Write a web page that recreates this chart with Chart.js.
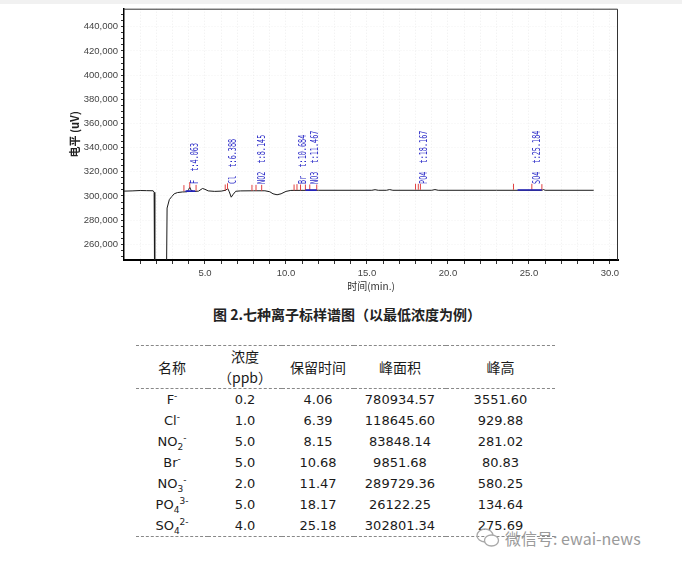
<!DOCTYPE html>
<html lang="zh">
<head>
    <meta charset="UTF-8">
    <title>七种离子标样谱图</title>
    <script src="https://cdn.jsdelivr.net/npm/chart.js"></script>
    <style type="text/css">
        body{
            margin: 0;
            background: #fff;
        }
        .page{
            position: relative;
            width: 682px;
            height: 565px;
            overflow: hidden;
        }
        .topband{
            position: absolute; left: 0; top: 0;
            width: 682px; height: 4px;
            background: #f1f1f1;
        }
        .grafica{
            position: absolute; left: 0; top: 0;
            width: 682px; height: 292px;
        }
        .caption{
            position: absolute; left: 0; top: 304px;
            width: 694px; text-align: center;
            font-family: "Noto Sans CJK SC", sans-serif;
            font-size: 14px; font-weight: bold; color: #222;
            line-height: 20px;
        }
        table{
            position: absolute; left: 136px; top: 345px;
            width: 419px;
            border-collapse: collapse;
            font-family: "DejaVu Sans", "Noto Sans CJK SC", sans-serif;
            color: #1a1a1a;
            table-layout: fixed;
        }
        th{
            font-family: "Noto Sans CJK SC", sans-serif;
            font-weight: normal; font-size: 14px;
            line-height: 21px; height: 42px; padding: 0;
            border-top: 1px dashed #888;
            border-bottom: 1px dashed #888;
        }
        td{
            font-size: 13px; line-height: 21px; height: 21px;
            padding: 0; text-align: center;
        }
        tr:last-child td{ border-bottom: 1px dashed #888; }
        sup, sub{ font-size: 9px; line-height: 0; }
        .mark{
            position: absolute; left: 476px; top: 526px;
            font-family: "Noto Sans CJK SC", sans-serif;
            font-size: 16px; color: #9a9a9a;
            display: flex; align-items: center;
        }
        .mark svg{ margin-right: 5px; }
    </style>
</head>
<body>
<div class="page">
    <div class="topband"></div>
    <div class="grafica">
        <canvas id="myChart" width="682" height="292"></canvas>
    </div>
    <div class="caption">图 2.七种离子标样谱图（以最低浓度为例）</div>
    <table id="tabla">
        <colgroup>
            <col style="width:72px"><col style="width:74px"><col style="width:72px"><col style="width:92px"><col style="width:109px">
        </colgroup>
        <thead>
            <tr><th>名称</th><th>浓度<br>（ppb）</th><th>保留时间</th><th>峰面积</th><th>峰高</th></tr>
        </thead>
        <tbody></tbody>
    </table>
    <div class="mark">
        <svg width="24" height="22" viewBox="0 0 24 22">
            <ellipse cx="9" cy="8.5" rx="8" ry="6.5" fill="none" stroke="#a8a8a8" stroke-width="1.3"/>
            <ellipse cx="15.5" cy="13.5" rx="7" ry="5.5" fill="#fff" stroke="#a8a8a8" stroke-width="1.3"/>
        </svg>
        <span>微信号: ewai-news</span>
    </div>
</div>
<script>
    // señal del cromatograma (min, uV)
    const tiempos = [0.0, 0.5, 1.0, 1.4, 1.8, 1.86, 1.9, 2.6, 2.66, 2.8, 2.95, 3.1, 3.3, 3.6, 3.9, 4.0, 4.06, 4.15, 4.3, 4.6, 4.85, 5.0, 5.2, 5.6, 6.0, 6.3, 6.4, 6.5, 6.62, 6.75, 6.9, 7.2, 8.0, 8.7, 9.0, 9.2, 9.45, 9.7, 10.0, 10.3, 12.0, 15.3, 15.5, 15.7, 16.2, 16.4, 16.6, 19.0, 19.2, 19.4, 23.0, 25.8, 25.9, 26.0, 29.0];
    const senal = [304000, 304200, 304500, 304400, 304300, 303000, 200000, 200000, 290000, 297000, 299500, 301800, 302800, 303300, 303500, 305500, 307200, 304500, 303700, 304000, 306200, 305500, 304200, 303800, 304000, 304800, 306300, 303500, 299000, 301500, 303900, 304200, 304300, 304300, 303500, 301800, 301000, 301800, 303800, 304600, 304700, 304700, 305200, 304700, 304700, 305300, 304700, 304700, 305300, 304700, 304700, 304700, 305300, 304700, 304700];

    // picos identificados
    const picos = ['F  t:4.063', 'Cl  t:6.388', 'NO2  t:8.145', 'Br  t:10.684', 'NO3  t:11.467', 'PO4  t:18.167', 'SO4  t:25.184'];
    const tiemposPico = [4.063, 6.388, 8.145, 10.684, 11.467, 18.167, 25.184];
    const nivelEtiqueta = 310000;

    // marcas rojas de integracion
    const marcasX = [3.7, 4.06, 4.45, 6.25, 6.39, 7.9, 8.15, 8.5, 10.5, 10.68, 10.9, 11.2, 11.47, 11.9, 18.0, 18.17, 18.3, 24.05, 25.18, 25.8];
    const marcasY = [306500, 309000, 306700, 307000, 308000, 306700, 306700, 306700, 307000, 307300, 307000, 307000, 307000, 307000, 307600, 307600, 307600, 307600, 307600, 307300];

    // lineas base azules
    const baseInicio = [3.8, 11.2, 24.3];
    const baseFin = [4.4, 11.9, 25.8];
    const baseNivel = [304000, 304800, 304900];

    // marcas de los ejes
    const yMarcas = [];
    for (let v = 250000; v <= 450000; v += 5000) yMarcas.push(v);
    const xMarcas = [];
    for (let v = 1; v <= 30; v++) xMarcas.push(v);

    // tabla
    const nombres = ['F<sup>-</sup>', 'Cl<sup>-</sup>', 'NO<sub>2</sub><sup>-</sup>', 'Br<sup>-</sup>', 'NO<sub>3</sub><sup>-</sup>', 'PO<sub>4</sub><sup>3-</sup>', 'SO<sub>4</sub><sup>2-</sup>'];
    const concentracion = ['0.2', '1.0', '5.0', '5.0', '2.0', '5.0', '4.0'];
    const retencion = ['4.06', '6.39', '8.15', '10.68', '11.47', '18.17', '25.18'];
    const areaPico = ['780934.57', '118645.60', '83848.14', '9851.68', '289729.36', '26122.25', '302801.34'];
    const alturaPico = ['3551.60', '929.88', '281.02', '80.83', '580.25', '134.64', '275.69'];

    const cuerpo = document.querySelector('#tabla tbody');
    for (let i = 0; i < nombres.length; i++) {
        const tr = document.createElement('tr');
        tr.innerHTML = '<td>' + nombres[i] + '</td><td>' + concentracion[i] + '</td><td>' + retencion[i] +
            '</td><td>' + areaPico[i] + '</td><td>' + alturaPico[i] + '</td>';
        cuerpo.appendChild(tr);
    }

    const traza = tiempos.map((t, i) => ({x: t, y: senal[i]}));
    const marcas = marcasX.map((t, i) => ({x: t, y: marcasY[i]}));
    const bases = [];
    for (let i = 0; i < baseInicio.length; i++) {
        bases.push({x: baseInicio[i], y: baseNivel[i]});
        bases.push({x: baseFin[i], y: baseNivel[i]});
        bases.push({x: baseFin[i] + 0.01, y: null});
    }

    // 260000 -> "260,000"
    function miles(v) {
        const s = String(Math.round(v));
        return s.slice(0, s.length - 3) + ',' + s.slice(-3);
    }

    // marco superior/derecho y etiquetas de picos
    const extras = {
        id: 'extras',
        afterDatasetsDraw(chart) {
            const c = chart.ctx, a = chart.chartArea;
            const sx = chart.scales.x, sy = chart.scales.y;
            c.save();
            c.strokeStyle = '#333';
            c.lineWidth = 1;
            c.beginPath();
            c.moveTo(a.left, a.top + 0.5);
            c.lineTo(a.right - 0.5, a.top + 0.5);
            c.lineTo(a.right - 0.5, a.bottom);
            c.stroke();
            c.fillStyle = '#2b2bc8';
            c.font = '10px "DejaVu Sans Mono", monospace';
            c.textAlign = 'left';
            c.textBaseline = 'middle';
            for (let i = 0; i < picos.length; i++) {
                c.save();
                c.translate(sx.getPixelForValue(tiemposPico[i]) + 6, sy.getPixelForValue(nivelEtiqueta));
                c.rotate(-Math.PI / 2);
                c.scale(0.68, 1);
                c.fillText(picos[i], 0, 0);
                c.restore();
            }
            c.restore();
        }
    };

    const fuenteTicks = {family: 'Liberation Sans', size: 9.5};

    const myChart = new Chart(document.getElementById('myChart'), {
        type: 'scatter',
        data: {
            datasets: [{
                data: bases,
                showLine: true,
                borderColor: '#2222bb',
                borderWidth: 1.6,
                pointRadius: 0,
                spanGaps: false
            }, {
                data: marcas,
                pointStyle: 'line',
                rotation: 90,
                pointRadius: 3,
                borderColor: '#e04040',
                borderWidth: 1,
                showLine: false
            }, {
                data: traza,
                showLine: true,
                borderColor: '#1a1a1a',
                borderWidth: 1,
                pointRadius: 0,
                tension: 0
            }]
        },
        options: {
            responsive: false,
            animation: false,
            layout: {padding: {left: 68, right: 64, top: 5, bottom: 0}},
            plugins: {legend: {display: false}, tooltip: {enabled: false}},
            scales: {
                x: {
                    type: 'linear',
                    min: 0,
                    max: 30.5,
                    bounds: 'data',
                    afterFit: s => { s.height = 32; },
                    afterBuildTicks: s => { s.ticks = xMarcas.map(v => ({value: v})); },
                    ticks: {
                        autoSkip: false,
                        maxRotation: 0,
                        padding: 4,
                        color: '#444',
                        font: fuenteTicks,
                        callback: v => (v % 5 === 0) ? v.toFixed(1) : ''
                    },
                    grid: {
                        color: 'rgba(0,0,0,0.07)',
                        tickColor: '#333',
                        tickLength: 4,
                        tickBorderDash: []
                    },
                    border: {color: '#000', width: 2, dash: [1, 2]},
                    title: {
                        display: true,
                        text: '时间(min.)',
                        color: '#333',
                        padding: 0,
                        font: {family: 'Noto Sans CJK SC', size: 10}
                    }
                },
                y: {
                    type: 'linear',
                    min: 247000,
                    max: 455000,
                    bounds: 'data',
                    afterFit: s => { s.width = 56; },
                    afterBuildTicks: s => { s.ticks = yMarcas.map(v => ({value: v})); },
                    ticks: {
                        autoSkip: false,
                        padding: 3,
                        color: '#444',
                        font: fuenteTicks,
                        callback: v => v % 20000 === 0 ? miles(v) : ''
                    },
                    grid: {
                        color: c => (c.tick && c.tick.value % 20000 === 0) ? 'rgba(0,0,0,0.05)' : 'rgba(0,0,0,0)',
                        tickColor: '#333',
                        tickLength: 3,
                        tickBorderDash: []
                    },
                    border: {color: '#000', width: 1.5, dash: [1, 2]},
                    title: {
                        display: true,
                        text: '电平 (uV)',
                        color: '#222',
                        padding: 0,
                        font: {family: 'Noto Sans CJK SC', size: 11, weight: 'bold'}
                    }
                }
            }
        },
        plugins: [extras]
    });
</script>
</body>
</html>
